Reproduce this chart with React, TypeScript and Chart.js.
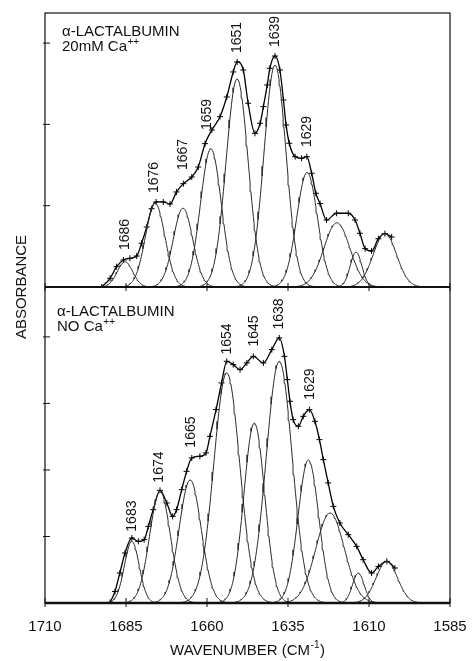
import React, { useEffect, useRef } from "react";
import { Chart, registerables } from "chart.js";
Chart.register(...registerables);

const FONT = "'Liberation Sans', Arial, Helvetica, sans-serif";

// x axis (wavenumber, reversed)
const xTicks = [1710, 1685, 1660, 1635, 1610, 1585];
const upperYTicks = [0.1, 0.2, 0.3];
const lowerYTicks = [0.1, 0.2, 0.3, 0.4];

// ---- Upper panel: alpha-lactalbumin, 20 mM Ca++ ----
const upperBandCenters = [1685.3, 1676.0, 1667.4, 1658.8, 1650.7, 1639.0, 1629.1, 1619.9, 1614.0, 1605.1];
const upperBandHeights = [0.031, 0.103, 0.097, 0.170, 0.256, 0.273, 0.141, 0.079, 0.043, 0.066];
const upperBandWidths = [2.4, 3.0, 3.0, 3.2, 3.4, 3.4, 3.2, 4.0, 1.8, 3.6];

const upperSpecWn = [1692.5, 1689.9, 1687.9, 1685.8, 1683.8, 1681.7, 1680.2, 1678.6, 1677.1, 1675.7, 1673.5, 1671.4, 1669.4, 1667.3, 1664.7, 1662.7, 1660.6, 1658.5, 1656.0, 1653.9, 1651.9, 1650.7, 1648.8, 1647.3, 1645.2, 1643.6, 1642.6, 1641.4, 1640.6, 1639.0, 1637.5, 1636.4, 1635.6, 1634.6, 1632.8, 1630.8, 1629.2, 1627.7, 1626.4, 1625.1, 1623.1, 1620.0, 1616.4, 1614.3, 1612.8, 1611.2, 1609.2, 1607.1, 1605.1, 1603.0];
const upperSpecAbs = [0, 0.0107, 0.025, 0.0332, 0.0353, 0.0381, 0.0538, 0.0738, 0.0963, 0.1046, 0.1046, 0.1021, 0.1169, 0.1271, 0.1353, 0.1476, 0.1763, 0.1931, 0.2095, 0.2337, 0.2645, 0.2768, 0.2669, 0.226, 0.189, 0.2014, 0.2218, 0.2485, 0.269, 0.2841, 0.2669, 0.23, 0.1993, 0.1768, 0.1603, 0.1583, 0.1603, 0.1399, 0.1153, 0.1025, 0.0824, 0.0907, 0.0907, 0.0824, 0.0661, 0.0471, 0.0443, 0.0594, 0.0656, 0.0615];

const upperLabelText = ["1686", "1676", "1667", "1659", "1651", "1639", "1629"];
const upperLabelWn = [1685.3, 1676.4, 1667.4, 1660.0, 1650.8, 1639.0, 1629.2];
const upperLabelAbs = [0.0455, 0.1156, 0.1439, 0.1931, 0.2878, 0.2952, 0.1722];

// ---- Lower panel: alpha-lactalbumin, no Ca++ ----
const lowerBandCenters = [1683.2, 1674.5, 1665.2, 1653.9, 1645.4, 1637.7, 1628.7, 1622.0, 1613.3, 1604.5];
const lowerBandHeights = [0.0926, 0.1678, 0.185, 0.3459, 0.2707, 0.3633, 0.215, 0.1353, 0.0451, 0.0626];
const lowerBandWidths = [2.3, 3.2, 3.4, 4.0, 3.2, 4.0, 3.2, 4.4, 1.8, 3.3];

const lowerSpecWn = [1689.9, 1688.4, 1686.9, 1685.3, 1683.2, 1681.2, 1679.4, 1678.1, 1676.6, 1674.5, 1672.4, 1670.6, 1669.4, 1667.8, 1666.3, 1664.7, 1662.2, 1660.3, 1659.1, 1657.2, 1655.5, 1653.9, 1651.9, 1649.8, 1647.7, 1645.7, 1642.6, 1640.0, 1637.7, 1636.1, 1635.2, 1634.4, 1633.4, 1631.8, 1630.3, 1628.4, 1626.7, 1625.3, 1624.1, 1622.6, 1621.0, 1619.0, 1616.4, 1613.8, 1611.8, 1609.2, 1607.1, 1604.5, 1602.0];
const lowerSpecAbs = [0.001, 0.0174, 0.0451, 0.0752, 0.0977, 0.0926, 0.0952, 0.1152, 0.1403, 0.1693, 0.1504, 0.1302, 0.1403, 0.1704, 0.1979, 0.218, 0.2205, 0.2256, 0.2505, 0.2907, 0.3308, 0.3633, 0.3583, 0.3508, 0.3609, 0.3708, 0.3609, 0.3809, 0.3985, 0.3708, 0.3358, 0.3032, 0.2756, 0.2656, 0.2806, 0.2907, 0.2731, 0.2456, 0.2155, 0.1805, 0.1453, 0.1203, 0.1027, 0.0851, 0.0651, 0.0451, 0.055, 0.0626, 0.0526];

const lowerLabelText = ["1683", "1674", "1665", "1654", "1645", "1638", "1629"];
const lowerLabelWn = [1683.2, 1674.7, 1665.0, 1653.9, 1645.5, 1637.7, 1628.2];
const lowerLabelAbs = [0.1072, 0.1809, 0.2335, 0.3734, 0.3854, 0.411, 0.3057];

const upperMax = 0.337;
const lowerMax = 0.475;

function bandPoints(c: number, h: number, s: number) {
  const pts: { x: number; y: number }[] = [];
  for (let x = c - 5 * s; x <= c + 5 * s + 1e-9; x += 0.25) {
    pts.push({ x, y: h * Math.exp(-((x - c) * (x - c)) / (2 * s * s)) });
  }
  return pts;
}

function bandDatasets(centers: number[], heights: number[], widths: number[], axis: string) {
  return centers.map((c, i) => ({
    type: "line" as const,
    data: bandPoints(c, heights[i], widths[i]),
    yAxisID: axis,
    borderColor: "#2a2a2a",
    borderWidth: 1,
    pointRadius: 0,
    tension: 0,
  }));
}

function specDataset(wn: number[], abs: number[], axis: string) {
  return {
    type: "line" as const,
    data: wn.map((x, i) => ({ x, y: abs[i] })),
    yAxisID: axis,
    borderColor: "#000",
    borderWidth: 1.3,
    pointStyle: "cross" as const,
    pointRadius: 3,
    pointBorderWidth: 1,
    pointBorderColor: "#000",
    cubicInterpolationMode: "monotone" as const,
  };
}

const overlay = {
  id: "overlay",
  afterDraw(chart: any) {
    const { ctx, chartArea: a, scales } = chart;
    const xs = scales.x;
    const yU = scales.yUp;
    const yL = scales.yLow;
    const sep = yU.getPixelForValue(0);
    ctx.save();
    ctx.strokeStyle = "#111";
    ctx.fillStyle = "#111";
    // frame
    ctx.lineWidth = 1.2;
    ctx.strokeRect(a.left, a.top, a.right - a.left, a.bottom - a.top);
    ctx.lineWidth = 2.2;
    ctx.beginPath();
    ctx.moveTo(a.left, sep);
    ctx.lineTo(a.right, sep);
    ctx.stroke();
    ctx.lineWidth = 2.6;
    ctx.beginPath();
    ctx.moveTo(a.left, a.bottom);
    ctx.lineTo(a.right, a.bottom);
    ctx.stroke();
    // x tick marks
    ctx.lineWidth = 1;
    for (const t of xTicks) {
      const px = xs.getPixelForValue(t);
      ctx.beginPath();
      ctx.moveTo(px, sep - 4);
      ctx.lineTo(px, sep + 4);
      ctx.moveTo(px, a.bottom - 5);
      ctx.lineTo(px, a.bottom + 4);
      ctx.stroke();
    }
    // y tick marks
    for (const t of upperYTicks) {
      const py = yU.getPixelForValue(t);
      ctx.beginPath();
      ctx.moveTo(a.left - 2, py);
      ctx.lineTo(a.left + 5, py);
      ctx.stroke();
    }
    for (const t of lowerYTicks) {
      const py = yL.getPixelForValue(t);
      ctx.beginPath();
      ctx.moveTo(a.left - 2, py);
      ctx.lineTo(a.left + 5, py);
      ctx.stroke();
    }
    // peak labels
    ctx.font = `14px ${FONT}`;
    ctx.textAlign = "left";
    ctx.textBaseline = "middle";
    const drawLabels = (txt: string[], wn: number[], ab: number[], ys: any) => {
      txt.forEach((s, i) => {
        ctx.save();
        ctx.translate(xs.getPixelForValue(wn[i]), ys.getPixelForValue(ab[i]));
        ctx.rotate(-Math.PI / 2);
        ctx.fillText(s, 0, 0);
        ctx.restore();
      });
    };
    drawLabels(upperLabelText, upperLabelWn, upperLabelAbs, yU);
    drawLabels(lowerLabelText, lowerLabelWn, lowerLabelAbs, yL);

    // panel captions
    ctx.textBaseline = "alphabetic";
    const caption = (x: number, y: number, line2: string) => {
      ctx.font = `15px ${FONT}`;
      ctx.fillText("\u03b1-LACTALBUMIN", x, y);
      ctx.fillText(line2, x, y + 15);
      const w = ctx.measureText(line2).width;
      ctx.font = `10px ${FONT}`;
      ctx.fillText("++", x + w + 0.5, y + 9);
    };
    caption(a.left + 17, a.top + 23, "20mM Ca");
    caption(a.left + 12, sep + 29, "NO Ca");

    // axis titles
    const t1 = "WAVENUMBER (CM";
    ctx.font = `15px ${FONT}`;
    const w1 = ctx.measureText(t1).width;
    ctx.font = `10px ${FONT}`;
    const w2 = ctx.measureText("-1").width;
    ctx.font = `15px ${FONT}`;
    const w3 = ctx.measureText(")").width;
    const total = w1 + w2 + w3 + 1;
    const cx = (a.left + a.right) / 2;
    let tx = cx - total / 2;
    const ty = 655;
    ctx.fillText(t1, tx, ty);
    tx += w1;
    ctx.font = `10px ${FONT}`;
    ctx.fillText("-1", tx + 0.5, ty - 7);
    tx += w2 + 1;
    ctx.font = `15px ${FONT}`;
    ctx.fillText(")", tx, ty);

    ctx.save();
    ctx.translate(26, sep);
    ctx.rotate(-Math.PI / 2);
    ctx.textAlign = "center";
    ctx.font = `15px ${FONT}`;
    ctx.fillText("ABSORBANCE", 0, 0);
    ctx.restore();

    ctx.restore();
  },
};

export default function App() {
  const ref = useRef<HTMLCanvasElement | null>(null);
  useEffect(() => {
    if (!ref.current) return;
    Chart.defaults.font.family = FONT;
    const datasets: any[] = [
      ...bandDatasets(lowerBandCenters, lowerBandHeights, lowerBandWidths, "yLow"),
      specDataset(lowerSpecWn, lowerSpecAbs, "yLow"),
      ...bandDatasets(upperBandCenters, upperBandHeights, upperBandWidths, "yUp"),
      specDataset(upperSpecWn, upperSpecAbs, "yUp"),
    ];
    const chart = new Chart(ref.current, {
      type: "line",
      data: { datasets },
      options: {
        responsive: false,
        animation: false,
        events: [],
        layout: { padding: { left: 45, right: 22, top: 13, bottom: 0 } },
        plugins: { legend: { display: false }, tooltip: { enabled: false } },
        scales: {
          x: {
            type: "linear",
            reverse: true,
            min: 1585,
            max: 1710,
            border: { display: false },
            grid: { display: false, drawTicks: false },
            ticks: {
              stepSize: 25,
              padding: 15,
              color: "#111",
              font: { size: 15, family: FONT },
              maxRotation: 0,
              autoSkip: false,
              callback: (v: any) => String(v),
            },
            afterFit: (s: any) => {
              s.height = 58;
              s.paddingLeft = 0;
              s.paddingRight = 0;
            },
          },
          yLow: {
            type: "linear",
            position: "left",
            stack: "panels",
            stackWeight: 316,
            min: 0,
            max: lowerMax,
            border: { display: false },
            grid: { display: false, drawTicks: false },
            ticks: { display: false },
            afterFit: (s: any) => {
              s.width = 0;
            },
          },
          yUp: {
            type: "linear",
            position: "left",
            stack: "panels",
            stackWeight: 274,
            min: 0,
            max: upperMax,
            border: { display: false },
            grid: { display: false, drawTicks: false },
            ticks: { display: false },
            afterFit: (s: any) => {
              s.width = 0;
            },
          },
        },
      },
      plugins: [overlay],
    });
    return () => chart.destroy();
  }, []);
  return (
    <div style={{ position: "absolute", left: 0, top: 0, width: 472, height: 661, background: "#fff" }}>
      <canvas ref={ref} width={472} height={661} style={{ display: "block" }} />
    </div>
  );
}
